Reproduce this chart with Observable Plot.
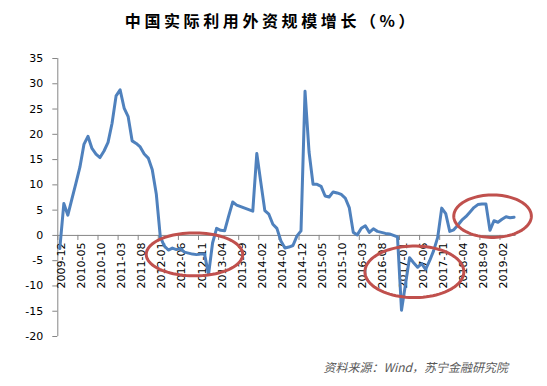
<!DOCTYPE html>
<html><head><meta charset="utf-8">
<script src="https://cdn.jsdelivr.net/npm/d3@7"></script>
<script src="https://cdn.jsdelivr.net/npm/@observablehq/plot@0.6"></script>
<style>
html,body{margin:0;padding:0;background:#fff;}
#wrap{width:547px;height:386px;overflow:hidden;background:#fff;}
#title{height:40px;line-height:40px;text-align:center;font-family:"Noto Sans CJK SC";font-weight:bold;font-size:16px;letter-spacing:3.6px;color:#000;padding-right:4px;}
#chart{height:310px;}
#caption{height:36px;line-height:34px;text-align:right;padding-right:39px;font-family:"Noto Sans CJK SC";font-style:italic;font-size:12px;color:#595959;}
</style></head>
<body>
<div id="wrap">
<div id="title">中国实际利用外资规模增长（%）</div>
<div id="chart"></div>
<div id="caption">资料来源：Wind，苏宁金融研究院</div>
</div>
<script>
const months = [
"2009-12",
"2010-01","2010-02","2010-03","2010-04","2010-05","2010-06","2010-07","2010-08","2010-09","2010-10","2010-11","2010-12",
"2011-01","2011-02","2011-03","2011-04","2011-05","2011-06","2011-07","2011-08","2011-09","2011-10","2011-11","2011-12",
"2012-01","2012-02","2012-03","2012-04","2012-05","2012-06","2012-07","2012-08","2012-09","2012-10","2012-11","2012-12",
"2013-01","2013-02","2013-03","2013-04","2013-05","2013-06","2013-07","2013-08","2013-09","2013-10","2013-11","2013-12",
"2014-01","2014-02","2014-03","2014-04","2014-05","2014-06","2014-07","2014-08","2014-09","2014-10","2014-11","2014-12",
"2015-01","2015-02","2015-03","2015-04","2015-05","2015-06","2015-07","2015-08","2015-09","2015-10","2015-11","2015-12",
"2016-01","2016-02","2016-03","2016-04","2016-05","2016-06","2016-07","2016-08","2016-09","2016-10","2016-11","2016-12",
"2017-01","2017-02","2017-03","2017-04","2017-05","2017-06","2017-07","2017-08","2017-09","2017-10","2017-11","2017-12",
"2018-01","2018-02","2018-03","2018-04","2018-05","2018-06","2018-07","2018-08","2018-09","2018-10","2018-11","2018-12",
"2019-01","2019-02","2019-03","2019-04","2019-05"
];
const growth = [
-2.6,
6.3,4.0,7.2,10.3,13.5,18.0,19.6,17.2,16.1,15.4,16.7,18.4,
22.2,27.6,28.8,25.2,23.5,18.7,18.2,17.5,16.1,15.3,13.0,8.2,
-0.3,-2.1,-2.9,-2.5,-2.8,-2.6,-3.3,-3.5,-3.7,-3.8,-3.7,-3.7,
-7.7,-1.5,1.4,1.0,0.9,3.8,6.6,6.0,5.7,5.4,5.1,4.8,
16.2,10.5,4.9,4.2,2.2,1.4,-1.1,-2.5,-2.3,-2.0,-0.1,0.9,
28.5,16.5,10.1,10.1,9.7,7.8,7.6,8.6,8.4,8.1,7.4,5.5,
0.6,0.1,1.4,1.9,0.6,1.3,0.8,0.6,0.4,0.3,0.0,-0.3,
-14.8,-9.6,-4.4,-5.4,-6.3,-5.6,-6.7,-5.0,-3.0,-0.4,5.4,4.3,
0.8,1.1,2.0,3.0,3.7,4.6,5.5,6.1,6.2,6.2,1.0,2.9,
2.6,3.2,3.7,3.5,3.6
];
const xTickLabels = ["2009-12","2010-05","2010-10","2011-03","2011-08","2012-01","2012-06","2012-11","2013-04","2013-09","2014-02","2014-07","2014-12","2015-05","2015-10","2016-03","2016-08","2017-01","2017-06","2017-11","2018-04","2018-09","2019-02"];
const yTicks = [35,30,25,20,15,10,5,0,-5,-10,-15,-20];
// highlighted regions (circled in red), in category-index / value units
const hlFrom = [21.5, 75.9, 98.0];
const hlTo   = [45.5, 100.5, 117.3];
const hlLow  = [-8.0, -12.3, -0.4];
const hlHigh = [0.5, -2.1, 8.0];

const data = growth.map((v, i) => ({i, month: months[i], v}));
const tickIdx = xTickLabels.map(m => months.indexOf(m));
const tickBounds = tickIdx.map(i => i - 0.5);

const ell = [];
hlFrom.forEach((a, k) => {
  const cx = (a + hlTo[k]) / 2, rx = (hlTo[k] - a) / 2;
  const cy = (hlLow[k] + hlHigh[k]) / 2, ry = (hlHigh[k] - hlLow[k]) / 2;
  for (let s = 0; s <= 90; s++) {
    const t = s / 90 * 2 * Math.PI;
    ell.push({k, x: cx + rx * Math.cos(t), y: cy + ry * Math.sin(t)});
  }
});

const axisGray = "#868686";
const n = months.length;
const chart = Plot.plot({
  width: 547, height: 310,
  marginTop: 18, marginBottom: 14, marginLeft: 57.3, marginRight: 547 - 57.3 - n * 4.02,
  style: {fontFamily: "DejaVu Sans", fontSize: "11px", background: "white", overflow: "visible"},
  x: {domain: [-0.5, n - 0.5], axis: null},
  y: {domain: [-20, 35], axis: null},
  marks: [
    Plot.ruleX([-0.5], {y1: -20, y2: 35, stroke: axisGray, strokeWidth: 1}),
    Plot.ruleY(yTicks, {y: d => d, x1: -0.5, x2: -0.5, insetLeft: -5, stroke: axisGray}),
    Plot.ruleY([0], {x1: -0.5, x2: n - 0.5, stroke: axisGray, strokeWidth: 1}),
    Plot.ruleX(tickBounds, {x: d => d, y1: 0, y2: -1, stroke: axisGray}),
    Plot.text(yTicks, {y: d => d, frameAnchor: "left", textAnchor: "end", dx: -14.5, text: d => String(d), fill: "#000"}),
    Plot.text(tickIdx, {x: d => d, y: 0, text: d => months[d], rotate: -90, textAnchor: "end", dy: 7, dx: 1.5, fill: "#000"}),
    Plot.line(data, {x: "i", y: "v", stroke: "#4f81bd", strokeWidth: 3, strokeLinejoin: "round", strokeLinecap: "round"}),
    Plot.line(ell, {x: "x", y: "y", z: "k", stroke: "#c0504d", strokeWidth: 3})
  ]
});
document.getElementById("chart").appendChild(chart);
</script>
</body></html>
